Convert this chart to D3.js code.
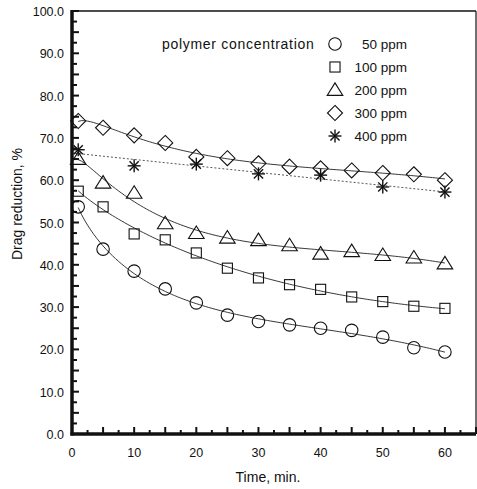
<!DOCTYPE html>
<html>
<head>
<meta charset="utf-8">
<script src="https://cdn.jsdelivr.net/npm/d3@7"></script>
<style>
  body { margin: 0; background: #fff; }
  text { font-family: "Liberation Sans", Arial, sans-serif; fill: #111; }
</style>
</head>
<body>
<div id="chart"></div>
<script>
// data
const seriesNames = ["50 ppm", "100 ppm", "200 ppm", "300 ppm", "400 ppm"];
const times = [1, 5, 10, 15, 20, 25, 30, 35, 40, 45, 50, 55, 60];
const starTimes = [1, 10, 20, 30, 40, 50, 60];
const dr50 = [53.7, 43.7, 38.5, 34.3, 31.0, 28.1, 26.6, 25.8, 25.0, 24.5, 22.9, 20.4, 19.4];
const dr100 = [57.4, 53.7, 47.3, 45.9, 42.8, 39.2, 36.9, 35.3, 34.2, 32.4, 31.3, 30.2, 29.7];
const dr200 = [65.0, 59.4, 57.0, 49.8, 47.5, 46.4, 45.8, 44.6, 42.6, 43.2, 42.3, 41.7, 40.3];
const dr300 = [74.0, 72.4, 70.6, 68.8, 65.5, 65.2, 64.0, 63.2, 62.8, 62.3, 61.7, 61.4, 60.0];
const dr400 = [67.2, 63.4, 63.8, 61.5, 61.2, 58.4, 57.2];
const yTicks = [0, 10, 20, 30, 40, 50, 60, 70, 80, 90, 100];
const xTicks = [0, 10, 20, 30, 40, 50, 60];

const width = 477, height = 489;
const svg = d3.select("#chart").append("svg")
  .attr("width", width).attr("height", height);

const x = d3.scaleLinear().domain([0, 65]).range([72, 476]);
const y = d3.scaleLinear().domain([0, 100]).range([434, 11]);

// frame: thin top / right, heavy left / bottom
svg.append("line").attr("x1", x(0)).attr("x2", x(65)).attr("y1", y(100)).attr("y2", y(100))
  .attr("stroke", "#111").attr("stroke-width", 1.5);
svg.append("line").attr("x1", x(65)).attr("x2", x(65)).attr("y1", y(100)).attr("y2", y(0))
  .attr("stroke", "#111").attr("stroke-width", 1.2);

// ticks every 2.5 along both axes, pointing inward
const xMinor = d3.range(0, 65.1, 2.5);
const yMinor = d3.range(0, 100.1, 2.5);
svg.selectAll(".xt").data(xMinor).enter().append("line")
  .attr("x1", d => x(d)).attr("x2", d => x(d))
  .attr("y1", y(0)).attr("y2", d => y(0) - (d % 5 === 0 ? 7 : 4))
  .attr("stroke", "#111").attr("stroke-width", 2);
svg.selectAll(".yt").data(yMinor).enter().append("line")
  .attr("x1", x(0)).attr("x2", d => x(0) + (d % 5 === 0 ? 7 : 5))
  .attr("y1", d => y(d)).attr("y2", d => y(d))
  .attr("stroke", "#111").attr("stroke-width", 2);

svg.append("line").attr("x1", x(0)).attr("x2", x(0)).attr("y1", y(100) - 1).attr("y2", y(0) + 1.5)
  .attr("stroke", "#111").attr("stroke-width", 3.5);
svg.append("line").attr("x1", x(0) - 1.5).attr("x2", x(65)).attr("y1", y(0)).attr("y2", y(0))
  .attr("stroke", "#111").attr("stroke-width", 3.5);

// tick labels
svg.selectAll(".yl").data(yTicks).enter().append("text")
  .attr("x", x(0) - 8).attr("y", d => y(d) + 5)
  .attr("text-anchor", "end").attr("font-size", 12.5)
  .text(d => d.toFixed(1));
svg.selectAll(".xl").data(xTicks).enter().append("text")
  .attr("x", d => x(d)).attr("y", 457)
  .attr("text-anchor", "middle").attr("font-size", 12.5)
  .text(d => d);

// axis titles
svg.append("text").attr("x", 268).attr("y", 482).attr("text-anchor", "middle")
  .attr("font-size", 14).text("Time, min.");
svg.append("text").attr("transform", "translate(22,204) rotate(-90)")
  .attr("text-anchor", "middle").attr("font-size", 14).text("Drag reduction, %");

// symbol drawing
function drawSym(g, type, s) {
  if (type === "circle") {
    g.append("circle").attr("r", s * 0.48).attr("fill", "none").attr("stroke", "#111").attr("stroke-width", 1.1);
  } else if (type === "square") {
    g.append("rect").attr("x", -s * 0.42).attr("y", -s * 0.42).attr("width", s * 0.84).attr("height", s * 0.84)
      .attr("fill", "none").attr("stroke", "#111").attr("stroke-width", 1.1);
  } else if (type === "triangle") {
    const h = s * 0.55;
    g.append("path").attr("d", `M0,${-h}L${s * 0.6},${h * 0.75}L${-s * 0.6},${h * 0.75}Z`)
      .attr("fill", "none").attr("stroke", "#111").attr("stroke-width", 1.1);
  } else if (type === "diamond") {
    const r = s * 0.58;
    g.append("path").attr("d", `M0,${-r}L${r},0L0,${r}L${-r},0Z`)
      .attr("fill", "none").attr("stroke", "#111").attr("stroke-width", 1.1);
  } else if (type === "star") {
    const r = s * 0.5;
    for (let k = 0; k < 4; k++) {
      const a = k * Math.PI / 4;
      g.append("line").attr("x1", -r * Math.cos(a)).attr("y1", -r * Math.sin(a))
        .attr("x2", r * Math.cos(a)).attr("y2", r * Math.sin(a))
        .attr("stroke", "#111").attr("stroke-width", 1.4);
    }
  }
}

const series = [
  { name: seriesNames[0], t: times, v: dr50, sym: "circle" },
  { name: seriesNames[1], t: times, v: dr100, sym: "square" },
  { name: seriesNames[2], t: times, v: dr200, sym: "triangle" },
  { name: seriesNames[3], t: times, v: dr300, sym: "diamond" },
  { name: seriesNames[4], t: starTimes, v: dr400, sym: "star" }
];

// least squares polynomial fit, returns coefficient array
function polyfit(xs, ys, deg) {
  const n = deg + 1;
  const A = [];
  for (let r = 0; r < n; r++) {
    A.push([]);
    for (let c = 0; c < n; c++) A[r].push(d3.sum(xs, xv => xv ** (r + c)));
    A[r].push(d3.sum(xs.map((xv, i) => ys[i] * xv ** r)));
  }
  for (let c = 0; c < n; c++) {
    let p = c;
    for (let r = c + 1; r < n; r++) if (Math.abs(A[r][c]) > Math.abs(A[p][c])) p = r;
    [A[c], A[p]] = [A[p], A[c]];
    for (let r = 0; r < n; r++) {
      if (r === c) continue;
      const f = A[r][c] / A[c][c];
      for (let k = c; k <= n; k++) A[r][k] -= f * A[c][k];
    }
  }
  return A.map((row, i) => row[n] / row[i]);
}
const evalPoly = (co, u) => co.reduce((s, c, i) => s + c * u ** i, 0);

// fitted curves, cubic in sqrt(t)
const line = d3.line().x(d => x(d[0])).y(d => y(d[1]));
series.slice(0, 4).forEach(s => {
  const co = polyfit(s.t.map(Math.sqrt), s.v, 4);
  const pts = d3.range(1, 60.01, 0.5).map(t => [t, evalPoly(co, Math.sqrt(t))]);
  svg.append("path").datum(pts)
    .attr("d", line).attr("fill", "none").attr("stroke", "#222").attr("stroke-width", 0.9);
});

// linear fit for 400 ppm, dotted
(function () {
  const s = series[4];
  const co = polyfit(s.t, s.v, 1);
  svg.append("line")
    .attr("x1", x(0.5)).attr("y1", y(evalPoly(co, 0.5)))
    .attr("x2", x(60)).attr("y2", y(evalPoly(co, 60)))
    .attr("stroke", "#444").attr("stroke-width", 0.9).attr("stroke-dasharray", "2,2");
})();

// markers
series.forEach(s => {
  s.t.forEach((t, i) => {
    const g = svg.append("g").attr("transform", `translate(${x(t)},${y(s.v[i])})`);
    drawSym(g, s.sym, s.sym === "square" ? 12 : 13);
  });
});

// legend
svg.append("text").attr("x", 162).attr("y", 49).attr("font-size", 14)
  .attr("letter-spacing", 0.7).text("polymer concentration");
series.forEach((s, i) => {
  const cy = 44 + i * 23;
  const g = svg.append("g").attr("transform", `translate(335,${cy})`);
  drawSym(g, s.sym, s.sym === "square" ? 12 : 13);
  svg.append("text").attr("x", 407).attr("y", cy + 5).attr("text-anchor", "end")
    .attr("font-size", 13.5).text(s.name);
});
</script>
</body>
</html>
